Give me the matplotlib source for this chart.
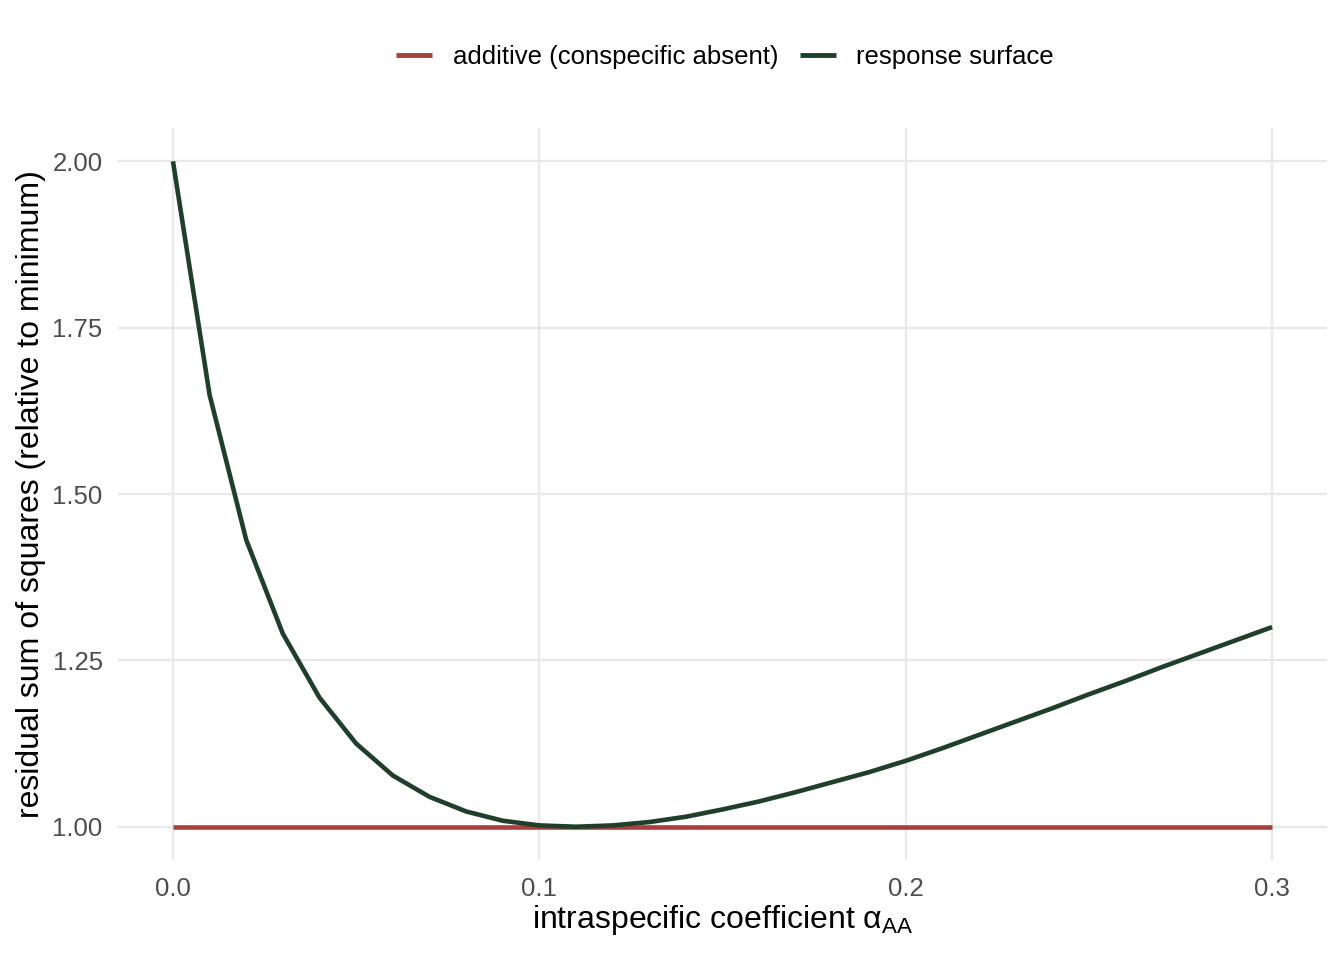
import numpy as np
import matplotlib
matplotlib.use("Agg")
import matplotlib.pyplot as plt

plt.rcParams['font.family'] = ['Liberation Sans', 'DejaVu Sans']
plt.rcParams['mathtext.fontset'] = 'custom'
plt.rcParams['mathtext.rm'] = 'Liberation Sans'
plt.rcParams['mathtext.it'] = 'Liberation Sans:italic'

# intraspecific coefficient values and relative RSS
alpha_aa = [0.00, 0.01, 0.02, 0.03, 0.04, 0.05, 0.06, 0.07, 0.08, 0.09,
            0.10, 0.11, 0.12, 0.13, 0.14, 0.15, 0.16, 0.17, 0.18, 0.19,
            0.20, 0.21, 0.22, 0.23, 0.24, 0.25, 0.26, 0.27, 0.28, 0.29, 0.30]
rss_surface = [2.000, 1.649, 1.431, 1.290, 1.194, 1.125, 1.077, 1.045, 1.023, 1.009,
               1.002, 1.000, 1.002, 1.007, 1.015, 1.026, 1.038, 1.052, 1.067, 1.082,
               1.099, 1.118, 1.138, 1.158, 1.178, 1.199, 1.219, 1.240, 1.260, 1.280, 1.300]
rss_additive = [1.0] * len(alpha_aa)

x_ticks = [0.0, 0.1, 0.2, 0.3]
x_labels = ["0.0", "0.1", "0.2", "0.3"]
y_ticks = [1.00, 1.25, 1.50, 1.75, 2.00]
y_labels = ["1.00", "1.25", "1.50", "1.75", "2.00"]

red = "#A4403F"
green = "#1F3F2B"

W, H = 1344, 960
fig = plt.figure(figsize=(W / 100, H / 100), dpi=100)
ax = fig.add_axes([118 / W, 1 - 860 / H, (1327 - 118) / W, (860 - 128) / H])

ax.plot(alpha_aa, rss_additive, color=red, lw=3.3, label="additive (conspecific absent)",
        solid_capstyle='butt', zorder=3)
ax.plot(alpha_aa, rss_surface, color=green, lw=3.3, label="response surface",
        solid_capstyle='butt', zorder=4)

ax.set_xlim(-0.015, 0.315)
ax.set_ylim(0.95, 2.05)
ax.set_xticks(x_ticks)
ax.set_xticklabels(x_labels)
ax.set_yticks(y_ticks)
ax.set_yticklabels(y_labels)
ax.minorticks_off()

for s in ax.spines.values():
    s.set_visible(False)
ax.grid(True, color="#E8E8E8", lw=1.6, zorder=0)
ax.set_axisbelow(True)
ax.tick_params(length=0, labelsize=18.5, labelcolor="#4D4D4D")
ax.tick_params(axis='x', pad=12)
ax.tick_params(axis='y', pad=11)

# axis titles
fig.text(0.5 * (118 + 1327) / W, 1 - 920 / H,
         r"intraspecific coefficient $\mathrm{\alpha}_{\mathrm{AA}}$",
         fontsize=23, ha='center', va='center')
fig.text(31 / W, 1 - 494 / H, "residual sum of squares (relative to minimum)",
         fontsize=23, rotation=90, ha='center', va='center')

leg = fig.legend(loc='center', bbox_to_anchor=(725 / W, 1 - 57 / H), ncol=2, frameon=False,
                 fontsize=18.5, handlelength=1.4, handletextpad=0.8, columnspacing=0.85)
for line in leg.get_lines():
    line.set_linewidth(3.5)

fig.savefig("out.png", dpi=100)
